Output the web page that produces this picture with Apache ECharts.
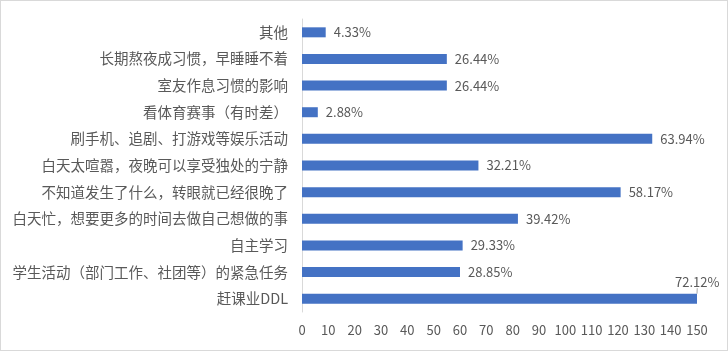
<!DOCTYPE html>
<html>
<head>
<meta charset="utf-8">
<script src="https://cdn.jsdelivr.net/npm/echarts@6/dist/echarts.min.js"></script>
<style>
html, body { margin: 0; padding: 0; background: #fff; }
#main { width: 726px; height: 349px; border: 1px solid #d9d9d9; }
</style>
</head>
<body>
<div id="main"></div>
<script>
var categories = [
    '其他',
    '长期熬夜成习惯，早睡睡不着',
    '室友作息习惯的影响',
    '看体育赛事（有时差）',
    '刷手机、追剧、打游戏等娱乐活动',
    '白天太喧嚣，夜晚可以享受独处的宁静',
    '不知道发生了什么，转眼就已经很晚了',
    '白天忙，想要更多的时间去做自己想做的事',
    '自主学习',
    '学生活动（部门工作、社团等）的紧急任务',
    '赶课业DDL'
];
var counts = [9, 55, 55, 6, 133, 67, 121, 82, 61, 60, 150];
var percents = ['4.33%', '26.44%', '26.44%', '2.88%', '63.94%', '32.21%', '58.17%', '39.42%', '29.33%', '28.85%', '72.12%'];

var myChart = echarts.init(document.getElementById('main'));
var font = '"Noto Sans CJK SC", sans-serif';

// only the last label (the longest bar) gets moved up with a leader line
var barData = counts.map(function (v, i) {
    if (i === counts.length - 1) {
        return v;
    }
    return { value: v, labelLine: { show: false } };
});

var option = {
    animation: false,
    grid: { left: 301, right: 30, top: 18, bottom: 38 },
    xAxis: {
        type: 'value',
        min: 0,
        max: 150,
        interval: 10,
        axisLine: { show: false },
        axisTick: { show: false },
        splitLine: { show: false },
        axisLabel: { color: '#595959', fontSize: 13, fontFamily: font, margin: 12 }
    },
    yAxis: {
        type: 'category',
        inverse: true,
        data: categories,
        axisLine: { lineStyle: { color: '#d9d9d9' } },
        axisTick: { show: false },
        axisLabel: { color: '#595959', fontSize: 14.5, fontFamily: font, margin: 14 }
    },
    series: [{
        type: 'bar',
        data: barData,
        barWidth: 10,
        itemStyle: { color: '#4472C4' },
        label: {
            show: true,
            position: 'right',
            distance: 8,
            color: '#595959',
            fontSize: 13,
            fontFamily: font,
            formatter: function (p) { return percents[p.dataIndex]; }
        },
        labelLine: { show: true, lineStyle: { color: '#a6a6a6', width: 1 } },
        labelLayout: function (p) {
            if (p.dataIndex === counts.length - 1) {
                return { dx: -30, dy: -17 };
            }
        }
    }]
};
myChart.setOption(option, true);
</script>
</body>
</html>
